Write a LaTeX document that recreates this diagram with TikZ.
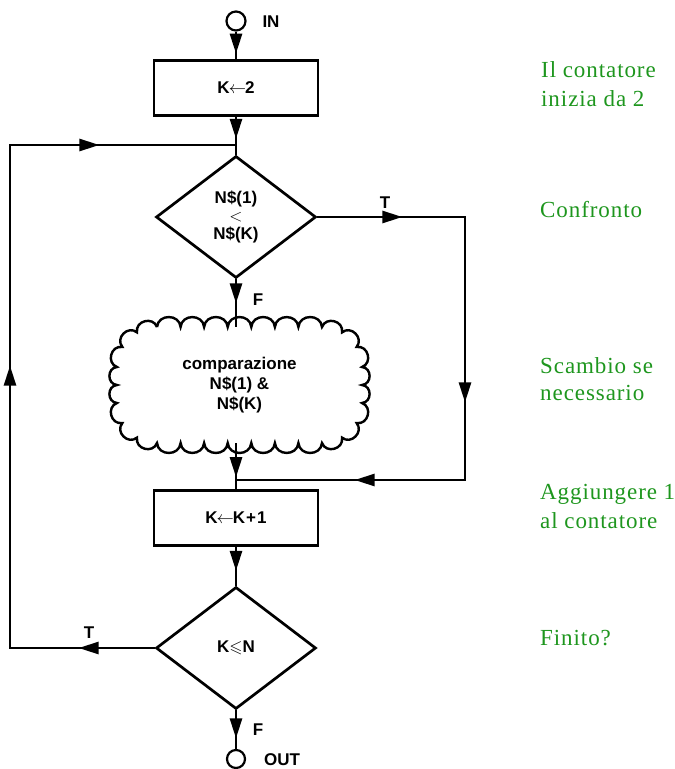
\documentclass[tikz,border=0pt]{standalone}
\usepackage{amssymb}
\usepackage{fontspec}
\usetikzlibrary{shapes.geometric,arrows.meta,decorations.markings}
\newfontfamily\notefont{Liberation Serif}[LetterSpace=4]
\newfontfamily\boxfont{Liberation Sans}
\definecolor{notegreen}{RGB}{30,150,30}
\begin{document}
\begin{tikzpicture}[x=1pt,y=-1pt,
  flow/.style={line width=2.7pt},
  tipat/.style={postaction={decorate,decoration={markings,
      mark=at position #1 with {\arrow{Triangle[length=20pt,width=12pt]}}}}},
  txt/.style={font=\boxfont\bfseries\fontsize{17}{20}\selectfont},
  procbox/.style={txt,draw,line width=2.7pt,minimum width=164pt,minimum height=55pt,inner sep=0pt},
  testbox/.style={txt,draw,line width=2.7pt,diamond,aspect=1.3,minimum width=160pt,minimum height=122pt,inner sep=0pt,align=center},
  terminal/.style={draw,circle,line width=2.2pt,minimum size=19pt,inner sep=0pt},
  lbl/.style={txt,inner sep=0pt},
  note/.style={font=\notefont\fontsize{23}{29}\selectfont,text=notegreen,anchor=base west,inner sep=0pt},
  puff/.style={bend left=85,looseness=1.45},
  cloudline/.style={line width=2.4pt}]
\useasboundingbox (0,0) rectangle (675,769);

% terminals and blocks
\node[terminal] (in) at (236,21) {};
\node[lbl] (inl) at (271,22) {IN};
\node[procbox] (b1) at (236,88) {K\kern-1pt$\leftarrow$\kern-1pt2};
\node[testbox] (d1) at (236,217) {N\$(1)\\[-2pt]{\mdseries\fontsize{18}{18}\selectfont$<$}\\[-2pt]N\$(K)};
\node[txt,minimum width=245pt,minimum height=116pt,inner sep=0pt,align=center] (cloud) at (239.5,385)
  {comparazione\\N\$(1) \&\\N\$(K)};
\node[procbox] (b2) at (236,518) {K\kern-1pt$\leftarrow$\kern-1ptK\kern1pt+\kern1pt1};
\node[testbox] (d2) at (236,648) {K$\leqslant$N};
\node[terminal,minimum size=18pt] (out) at (236,759) {};
\node[lbl] (outl) at (282,760) {OUT};

% branch labels
\node[lbl] (t1) at (385,203) {T};
\node[lbl] (f1) at (258,300) {F};
\node[lbl] (t2) at (89,633) {T};
\node[lbl] (f2) at (258,730) {F};

% cloud outline: puffs running clockwise round a rounded rectangle
\draw[cloudline] (157,327)
  foreach \px/\py in {180.6/327,204.1/327,227.7/327,251.3/327,274.9/327,298.4/327,322/327,
                 342/332.4,356.6/347,362/367,362/385,362/403,
                 356.6/423,342/437.6,322/443,
                 298.4/443,274.9/443,251.3/443,227.7/443,204.1/443,180.6/443,157/443,
                 137/437.6,122.4/423,117/403,117/385,117/367,
                 122.4/347,137/332.4,157/327}
  { to[puff] (\px,\py) };

% junction points
\coordinate (j1) at (236,145);
\coordinate (ul) at (10,145);
\coordinate (ll) at (10,648);
\coordinate (rt) at (465,217);
\coordinate (rb) at (465,480);
\coordinate (mj) at (236,480);

% connectors
\draw[flow,tipat=0.8] (in) -- (b1);
\draw[flow,tipat=22pt] (b1.south) -- (d1.north);
\draw[flow,tipat=76pt,tipat=427pt,tipat=737pt] (d2.west) -- (ll) -- (ul) -- (j1);
\draw[flow,tipat=85pt,tipat=333pt,tipat=521pt] (d1.east) -- (rt) -- (rb) -- (mj);
\draw[flow,tipat=24pt] (d1.south) -- (d1.south |- cloud.north);
\draw[flow,tipat=34pt] (b2.north |- cloud.south) -- (b2.north);
\draw[flow,tipat=24pt] (b2.south) -- (d2.north);
\draw[flow,tipat=28pt] (d2.south) -- (out);

% side notes
\node[note] (n1a) at (541,77) {Il contatore};
\node[note] (n1b) at (541,106) {inizia da 2};
\node[note] (n2) at (540,217) {Confronto};
\node[note] (n3a) at (540,373) {Scambio se};
\node[note] (n3b) at (540,400) {necessario};
\node[note] (n4a) at (540,499) {Aggiungere 1};
\node[note] (n4b) at (540,528) {al contatore};
\node[note] (n5) at (540,645) {Finito?};
\end{tikzpicture}
\end{document}
